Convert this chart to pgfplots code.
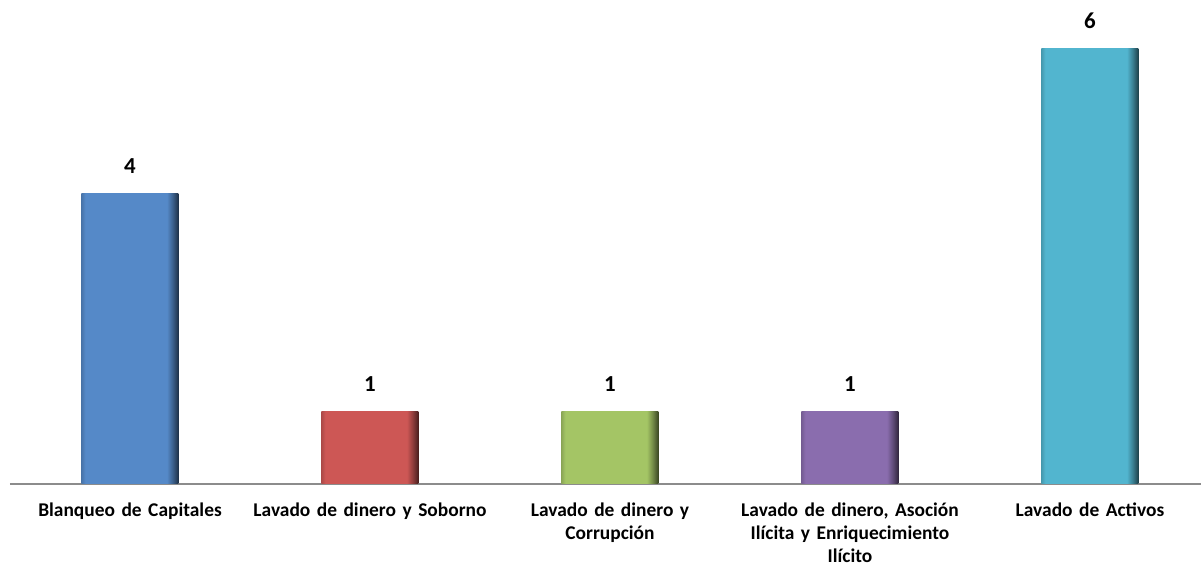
\documentclass[border=0pt]{standalone}
\usepackage{pgfplots}
\pgfplotsset{compat=1.18}
\usepackage{fontspec}
\setmainfont{Carlito}
\definecolor{cblue}{HTML}{5589C8}
\definecolor{cred}{HTML}{CD5755}
\definecolor{cgreen}{HTML}{A4C565}
\definecolor{cpurple}{HTML}{8A6DAE}
\definecolor{ccyan}{HTML}{52B5CF}
\definecolor{axisgray}{HTML}{8C8C8C}
\newcommand\mkshade[2]{%
  \pgfdeclarehorizontalshading{#1}{100bp}{%
    color(0bp)=(#2!85!black); color(25bp)=(#2!85!black);
    color(27bp)=(#2); color(69bp)=(#2);
    color(72bp)=(#2!70!black); color(75bp)=(#2!35!black);
    color(100bp)=(#2!35!black)}}
\mkshade{sblue}{cblue}
\mkshade{sred}{cred}
\mkshade{sgreen}{cgreen}
\mkshade{spurple}{cpurple}
\mkshade{scyan}{ccyan}
\begin{document}
\begin{tikzpicture}
\path[use as bounding box] (0,0) rectangle (1201bp,568bp);
\begin{axis}[
  at={(10bp,84bp)}, anchor=south west,
  scale only axis,
  width=1192bp, height=472.3bp,
  xmin=-0.5, xmax=4.4667,
  ymin=0, ymax=6.5,
  axis x line*=bottom,
  axis y line=none,
  x axis line style={draw=axisgray, line width=1.2bp, -},
  xtick={0,1,2,3,4},
  xticklabels={{Blanqueo de Capitales},{Lavado de dinero y Soborno},{Lavado de dinero y\\Corrupción},{Lavado de dinero, Asoción\\Ilícita y Enriquecimiento\\Ilícito},{Lavado de Activos}},
  major tick length=0pt,
  x tick label style={font=\fontsize{19.5}{23.5}\selectfont\bfseries, align=center, text width=270bp, anchor=north, yshift=-15bp},
  ybar, bar width=97bp, bar shift=0pt,
  nodes near coords,
  /pgf/number format/assume math mode=true,
  every node near coord/.append style={font=\fontsize{23}{26}\selectfont\bfseries, anchor=south, yshift=16bp},
  clip=false,
]
\addplot[draw=none, shading=sblue, shade] coordinates {(0,4)};
\addplot[draw=none, shading=sred, shade] coordinates {(1,1)};
\addplot[draw=none, shading=sgreen, shade] coordinates {(2,1)};
\addplot[draw=none, shading=spurple, shade] coordinates {(3,1)};
\addplot[draw=none, shading=scyan, shade] coordinates {(4,6)};
\end{axis}
\end{tikzpicture}
\end{document}
